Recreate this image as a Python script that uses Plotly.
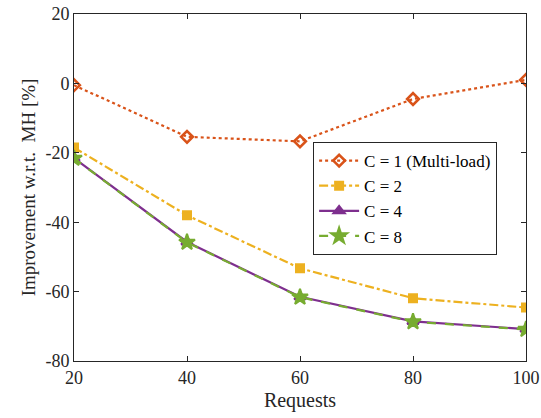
import plotly.graph_objects as go

requests = [20, 40, 60, 80, 100]
c1_multiload = [-0.5, -15.4, -16.7, -4.5, 1.0]
c2 = [-18.5, -38.0, -53.3, -61.9, -64.6]
c4 = [-21.5, -45.7, -61.5, -68.6, -70.8]
c8 = [-21.6, -45.8, -61.6, -68.7, -70.9]

y_ticks = [-80, -60, -40, -20, 0, 20]
y_tick_text = ["-80", "-60", "-40", "-20", "0", "20"]
x_ticks = [20, 40, 60, 80, 100]

FONT = "'Liberation Serif', 'DejaVu Serif', serif"

series = [
    ("C = 1 (Multi-load)", c1_multiload, "#D95319", "dot", "diamond-open", 9, 2.6),
    ("C = 2", c2, "#EDB120", "dashdot", "square", 8, 2),
    ("C = 4", c4, "#7E2F8E", "solid", "triangle-up", 10, 2),
    ("C = 8", c8, "#77AC30", "dash", "star", 12, 2),
]

fig = go.Figure()
for name, vals, color, dash, symbol, msize, mline in series:
    fig.add_trace(go.Scatter(
        x=requests, y=vals, name=name, mode="lines+markers",
        line=dict(color=color, width=2.2, dash=dash),
        marker=dict(symbol=symbol, size=msize, color=color,
                    line=dict(color=color, width=mline)),
    ))

axis_common = dict(
    showline=True, mirror="ticks", linecolor="#262626", linewidth=1,
    ticks="inside", ticklen=5, tickcolor="#262626",
    showgrid=False, zeroline=False, automargin=False,
    tickfont=dict(family=FONT, size=18, color="#262626"),
)

fig.update_layout(
    width=541, height=418,
    margin=dict(l=74, r=15, t=14, b=57),
    paper_bgcolor="white", plot_bgcolor="white",
    font=dict(family=FONT, color="#262626"),
    xaxis=dict(range=[20, 100], tickvals=x_ticks,
               title=dict(text="Requests", font=dict(family=FONT, size=20), standoff=6),
               **axis_common),
    yaxis=dict(range=[-80, 20], tickvals=y_ticks, ticktext=y_tick_text,
               title=dict(text="Improvement w.r.t.  MH [%]", font=dict(family=FONT, size=19), standoff=4),
               **axis_common),
    legend=dict(x=0.529, y=0.631, xanchor="left", yanchor="top",
                bgcolor="white", bordercolor="#262626", borderwidth=1,
                font=dict(family=FONT, size=17, color="#000000"),
                tracegroupgap=0, itemwidth=40),
    showlegend=True,
)

fig.write_html("out.html")
